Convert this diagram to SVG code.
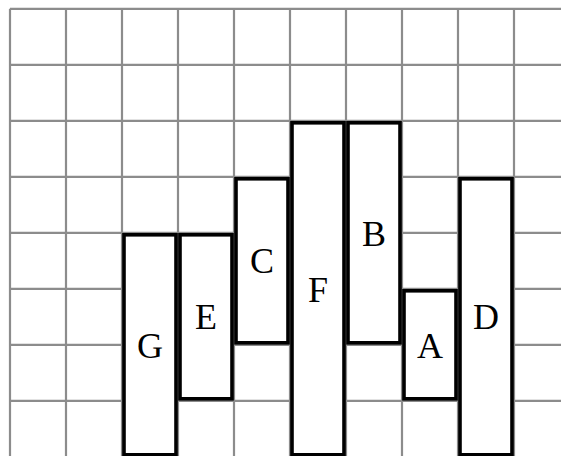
<svg xmlns="http://www.w3.org/2000/svg" width="561" height="456" viewBox="0 0 561 456">
<style>
.grid line{stroke:#8c8c8c;stroke-width:2.2}
.node rect{fill:#fff;stroke:#000;stroke-width:3.6}
.node text{font-family:"Liberation Serif","Times New Roman",serif;font-size:36px;fill:#000;text-anchor:middle}
</style>
<rect width="561" height="456" fill="#fff"/>
<g class="grid">
<line x1="10" y1="8.8" x2="561" y2="8.8"/>
<line x1="10" y1="64.8" x2="561" y2="64.8"/>
<line x1="10" y1="120.8" x2="561" y2="120.8"/>
<line x1="10" y1="176.8" x2="561" y2="176.8"/>
<line x1="10" y1="232.8" x2="561" y2="232.8"/>
<line x1="10" y1="288.8" x2="561" y2="288.8"/>
<line x1="10" y1="344.8" x2="561" y2="344.8"/>
<line x1="10" y1="400.8" x2="561" y2="400.8"/>
<line x1="10" y1="8.8" x2="10" y2="456"/>
<line x1="66" y1="8.8" x2="66" y2="456"/>
<line x1="122" y1="8.8" x2="122" y2="456"/>
<line x1="178" y1="8.8" x2="178" y2="456"/>
<line x1="234" y1="8.8" x2="234" y2="456"/>
<line x1="290" y1="8.8" x2="290" y2="456"/>
<line x1="346" y1="8.8" x2="346" y2="456"/>
<line x1="402" y1="8.8" x2="402" y2="456"/>
<line x1="458" y1="8.8" x2="458" y2="456"/>
<line x1="514" y1="8.8" x2="514" y2="456"/>
</g>
<g id="G" class="node"><rect x="124" y="234.8" width="52" height="220"/><text x="150" y="358">G</text></g>
<g id="E" class="node"><rect x="180" y="234.8" width="52" height="164"/><text x="206" y="329">E</text></g>
<g id="C" class="node"><rect x="236" y="178.8" width="52" height="164"/><text x="262" y="273">C</text></g>
<g id="F" class="node"><rect x="292" y="122.8" width="52" height="332"/><text x="318" y="302">F</text></g>
<g id="B" class="node"><rect x="348" y="122.8" width="52" height="220"/><text x="374" y="246">B</text></g>
<g id="A" class="node"><rect x="404" y="290.8" width="52" height="108"/><text x="430" y="358">A</text></g>
<g id="D" class="node"><rect x="460" y="178.8" width="52" height="276"/><text x="486" y="329">D</text></g>
</svg>
